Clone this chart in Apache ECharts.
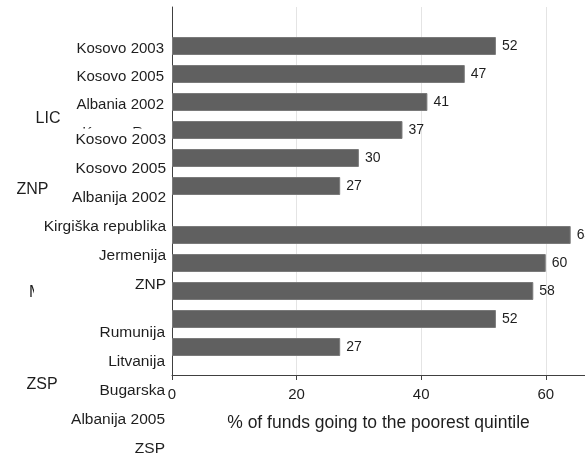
<!DOCTYPE html>
<html>
<head>
<meta charset="utf-8">
<script src="https://cdn.jsdelivr.net/npm/echarts@6/dist/echarts.min.js"></script>
<style>
html, body { margin: 0; padding: 0; background: #fff; }
#chart { width: 585px; height: 453px; }
</style>
</head>
<body>
<div id="chart"></div>
<script>
// bars, two income groups
var lowCats = ['Kosovo 2003', 'Kosovo 2005', 'Albania 2002', 'Kyrgyz Rep.', '', ''];
var lowVals = [52, 47, 41, 37, 30, 27];
var midCats = ['', '', '', '', ''];
var midVals = [64, 60, 58, 52, 27];
// second (overlaid) label layer
var lowCatsSr = ['Kosovo 2003', 'Kosovo 2005', 'Albanija 2002', 'Kirgiška republika', 'Jermenija', 'ZNP'];
var midCatsSr = ['Rumunija', 'Litvanija', 'Bugarska', 'Albanija 2005', 'ZSP'];
var axisTitle = '% of funds going to the poorest quintile';

var FONT = 'Liberation Sans, Arial, sans-serif';
var TXT = '#1e1e1e';
var XMAX = 66.3;

var hiddenX = function (grid) {
    return {
        type: 'value', gridIndex: grid, min: 0, max: XMAX, show: false
    };
};

var catAxis = function (grid, data, size, margin, bg, z, showLabel) {
    return {
        type: 'category', gridIndex: grid, data: data, inverse: true, z: z,
        axisLine: {show: false},
        axisTick: {show: false},
        splitLine: {show: false},
        axisLabel: {
            show: showLabel !== false, interval: 0, margin: margin, fontFamily: FONT,
            fontSize: size, color: TXT,
            backgroundColor: bg, lineHeight: 22, padding: bg ? [0, 2] : 0
        }
    };
};

var barSeries = function (grid, vals) {
    return {
        type: 'bar', xAxisIndex: grid, yAxisIndex: grid, data: vals,
        barWidth: 18,
        itemStyle: {color: '#606060', borderColor: '#7a7a7a', borderWidth: 1},
        label: {
            show: true, position: 'right', distance: 6,
            fontFamily: FONT, fontSize: 14, color: TXT
        }
    };
};

var mkGrid = function (top, height, bottom) {
    var g = {left: 172, right: 0, top: top, outerBoundsMode: 'none', containLabel: false};
    if (height != null) g.height = height; else g.bottom = bottom;
    return g;
};

var groupText = function (txt, x, y, align) {
    return {
        type: 'text', x: x, y: y, z: 10,
        style: {text: txt, font: '16px ' + FONT, fill: TXT, textAlign: align, textVerticalAlign: 'middle'}
    };
};

var option = {
    backgroundColor: '#fff',
    animation: false,
    grid: [
        mkGrid(7, null, 78),
        mkGrid(32, 168),
        mkGrid(221, 140),
        mkGrid(125, 174),
        mkGrid(318, 145),
        mkGrid(34.5, 168)
    ],
    xAxis: [{
        type: 'value', gridIndex: 0, min: 0, max: XMAX, interval: 20,
        name: axisTitle, nameLocation: 'middle', nameGap: 39,
        nameTextStyle: {fontFamily: FONT, fontSize: 17.5, color: TXT},
        axisLine: {show: true, lineStyle: {color: '#404040', width: 1}},
        axisTick: {show: true, length: 5, lineStyle: {color: '#404040'}},
        axisLabel: {fontFamily: FONT, fontSize: 15, color: TXT, margin: 12, showMaxLabel: false},
        splitLine: {show: true, lineStyle: {color: '#e4e4e4', width: 1}}
    }, hiddenX(1), hiddenX(2), hiddenX(3), hiddenX(4), hiddenX(5)],
    yAxis: [{
        type: 'value', gridIndex: 0, min: 0, max: 1,
        axisLine: {show: true, lineStyle: {color: '#404040', width: 1}},
        axisTick: {show: false},
        axisLabel: {show: false},
        splitLine: {show: false}
    },
        catAxis(1, lowCats, 15, 8, null, 2, false),
        catAxis(2, midCats, 15, 8, null, 2, false),
        catAxis(3, lowCatsSr, 15.5, 4, '#fff', 5),
        catAxis(4, midCatsSr, 15.5, 5, '#fff', 5),
        catAxis(5, lowCats, 15, 8, null, 2)
    ],
    graphic: [
        groupText('LIC', 48, 118.5, 'center'),
        groupText('ZNP', 32.5, 189.5, 'center'),
        groupText('MIC', 29, 292.5, 'left'),
        {type: 'rect', shape: {x: 34, y: 280, width: 40, height: 26}, z: 20, style: {fill: '#fff'}},
        groupText('ZSP', 42, 384.5, 'center')
    ],
    series: [barSeries(1, lowVals), barSeries(2, midVals)]
};

var myChart = echarts.init(document.getElementById('chart'));
myChart.setOption(option);
</script>
</body>
</html>
